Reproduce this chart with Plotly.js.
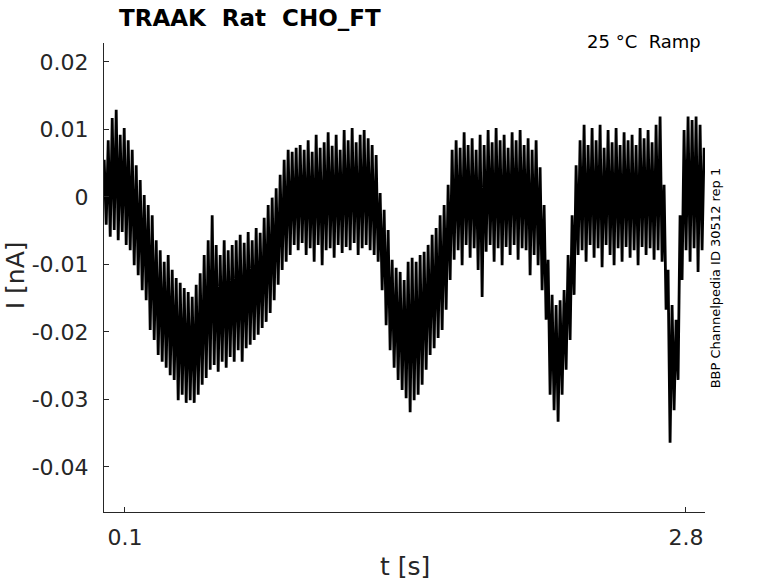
<!DOCTYPE html>
<html>
<head>
<meta charset="utf-8">
<script src="https://cdn.plot.ly/plotly-3.0.1.min.js"></script>
<style>
  html, body { margin: 0; padding: 0; background: #fff; }
  #chart { width: 778px; height: 583px; }
</style>
</head>
<body>
<div id="chart"></div>
<script>
const sampleStep = 0.009625; // s between read samples
const startTime = 0;

const currentNa = [
  0.0055, -0.0041, 0.0084, -0.0059, 0.0117, -0.0049, 0.0129, -0.0064, 0.0092, -0.0052,
  0.0102, -0.0071, 0.0084, -0.0079, 0.0070, -0.0101, 0.0047, -0.0116, 0.0025, -0.0138,
  0.0003, -0.0153, -0.0012, -0.0197, -0.0027, -0.0212, -0.0064, -0.0234, -0.0079, -0.0244,
  -0.0096, -0.0253, -0.0086, -0.0264, -0.0108, -0.0271, -0.0120, -0.0301, -0.0127, -0.0293,
  -0.0135, -0.0305, -0.0141, -0.0301, -0.0148, -0.0305, -0.0130, -0.0293, -0.0113, -0.0278,
  -0.0086, -0.0268, -0.0064, -0.0256, -0.0027, -0.0249, -0.0071, -0.0259, -0.0086, -0.0244,
  -0.0064, -0.0253, -0.0079, -0.0237, -0.0071, -0.0244, -0.0064, -0.0227, -0.0056, -0.0244,
  -0.0068, -0.0224, -0.0052, -0.0219, -0.0064, -0.0212, -0.0046, -0.0204, -0.0053, -0.0194,
  -0.0031, -0.0185, -0.0012, -0.0172, -0.0001, -0.0153, 0.0013, -0.0130, 0.0033, -0.0108,
  0.0055, -0.0096, 0.0070, -0.0086,
  // plateau
  0.0067, -0.0071, 0.0073, -0.0079, 0.0077, -0.0068, 0.0070, -0.0086, 0.0084, -0.0076,
  0.0067, -0.0096, 0.0092, -0.0071, 0.0073, -0.0101, 0.0081, -0.0079, 0.0096, -0.0076,
  0.0076, -0.0090, 0.0092, -0.0071, 0.0070, -0.0083, 0.0099, -0.0074, 0.0084, -0.0079,
  0.0102, -0.0068, 0.0081, -0.0086, 0.0092, -0.0076, 0.0099, -0.0071, 0.0087, -0.0079,
  0.0077, -0.0086, 0.0062,
  // second dip
  -0.0096, 0.0006, -0.0138, -0.0019, -0.0190, -0.0049, -0.0227, -0.0093, -0.0253, -0.0105,
  -0.0271, -0.0111, -0.0286, -0.0123, -0.0298, -0.0096, -0.0319, -0.0090, -0.0301, -0.0096,
  -0.0293, -0.0086, -0.0278, -0.0081, -0.0256, -0.0071, -0.0234, -0.0056, -0.0224, -0.0046,
  -0.0209, -0.0027, -0.0197, -0.0012, -0.0167, 0.0018, -0.0123, 0.0070, -0.0093,
  // plateau
  0.0084, -0.0079, 0.0073, -0.0101, 0.0096, -0.0071, 0.0077, -0.0090, 0.0087, -0.0076,
  0.0070, -0.0108, 0.0092, -0.0148, 0.0077, -0.0081, 0.0099, -0.0071, 0.0081, -0.0096,
  0.0102, -0.0076, 0.0084, -0.0101, 0.0092, -0.0074, 0.0073, -0.0086, 0.0096, -0.0071,
  0.0084, -0.0093, 0.0099, -0.0076, 0.0077, -0.0079, 0.0087, -0.0116, 0.0070, -0.0086,
  0.0084, -0.0101,
  // third dip
  0.0044, -0.0138, -0.0012, -0.0182, -0.0093, -0.0293, -0.0145, -0.0316, -0.0160, -0.0333,
  -0.0153, -0.0293, -0.0138, -0.0256, -0.0086, -0.0212, -0.0027, -0.0145, 0.0047, -0.0086,
  // plateau
  0.0084, -0.0079, 0.0107, -0.0096, 0.0077, -0.0071, 0.0102, -0.0090, 0.0084, -0.0076,
  0.0107, -0.0104, 0.0073, -0.0071, 0.0099, -0.0086, 0.0081, -0.0101, 0.0102, -0.0076,
  0.0077, -0.0096, 0.0096, -0.0074, 0.0084, -0.0090, 0.0092, -0.0079, 0.0077, -0.0101,
  0.0102, -0.0074, 0.0087, -0.0086, 0.0099, -0.0076, 0.0081, -0.0093, 0.0107, -0.0079,
  0.0119, -0.0096,
  // fourth dip
  0.0018, -0.0167, -0.0108, -0.0364, -0.0160, -0.0316, -0.0182, -0.0271, -0.0027, -0.0123,
  // last plateau
  0.0099, -0.0079, 0.0119, -0.0096, 0.0114, -0.0076, 0.0119, -0.0111, 0.0107, -0.0079,
  0.0073
];

const yTickVals = [0.02, 0.01, 0, -0.01, -0.02, -0.03, -0.04];
const yTickText = ['0.02', '0.01', '0', '-0.01', '-0.02', '-0.03', '-0.04'];
const xTickVals = [0.1, 2.8];
const xTickText = ['0.1', '2.8'];

const axisGrey = '#262626';
const fontFam = 'DejaVu Sans, sans-serif';

const trace = {
    y: currentNa,
    x0: startTime,
    dx: sampleStep,
    type: 'scatter',
    mode: 'lines',
    line: { color: '#000000', width: 2.8 },
    hoverinfo: 'skip'
};

const layout = {
    width: 778,
    height: 583,
    margin: { l: 104, r: 73, t: 43, b: 71 },
    paper_bgcolor: '#ffffff',
    plot_bgcolor: '#ffffff',
    showlegend: false,
    font: { family: fontFam, color: axisGrey },
    xaxis: {
        range: [-0.001, 2.892],
        tickvals: xTickVals,
        ticktext: xTickText,
        ticks: 'inside',
        ticklen: 5,
        tickcolor: axisGrey,
        tickfont: { size: 22, color: axisGrey },
        ticklabelstandoff: 6,
        showline: true,
        linecolor: axisGrey,
        linewidth: 1,
        showgrid: false,
        zeroline: false,
        mirror: false
    },
    yaxis: {
        range: [-0.04667, 0.02281],
        tickvals: yTickVals,
        ticktext: yTickText,
        ticks: 'inside',
        ticklen: 5,
        tickcolor: axisGrey,
        tickfont: { size: 22, color: axisGrey },
        ticklabelstandoff: 10,
        showline: true,
        linecolor: axisGrey,
        linewidth: 1,
        showgrid: false,
        zeroline: false,
        mirror: false
    },
    annotations: [
        {
            text: '<b>TRAAK\u00a0\u00a0Rat\u00a0\u00a0CHO_FT</b>',
            xref: 'paper', yref: 'paper', x: 0.0216, y: 1.053,
            xanchor: 'left', yanchor: 'middle', showarrow: false,
            font: { size: 23, color: '#000000', family: fontFam }
        },
        {
            text: '25 °C\u00a0\u00a0Ramp',
            xref: 'paper', yref: 'paper', x: 0.9967, y: 1.004,
            xanchor: 'right', yanchor: 'middle', showarrow: false,
            font: { size: 18, color: '#000000', family: fontFam }
        },
        {
            text: 'BBP Channelpedia ID 30512 rep 1',
            xref: 'paper', yref: 'paper', x: 1.018, y: 0.5,
            xanchor: 'center', yanchor: 'middle', showarrow: false,
            textangle: -90,
            font: { size: 13, color: '#000000', family: fontFam }
        },
        {
            text: 'I [nA]',
            xref: 'paper', yref: 'paper', x: -0.148, y: 0.505,
            xanchor: 'center', yanchor: 'middle', showarrow: false,
            textangle: -90,
            font: { size: 25, color: axisGrey, family: fontFam }
        },
        {
            text: 't [s]',
            xref: 'paper', yref: 'paper', x: 0.5, y: -0.117,
            xanchor: 'center', yanchor: 'middle', showarrow: false,
            font: { size: 25, color: axisGrey, family: fontFam }
        }
    ]
};

Plotly.newPlot('chart', [trace], layout, { displayModeBar: false, staticPlot: true });
</script>
</body>
</html>
